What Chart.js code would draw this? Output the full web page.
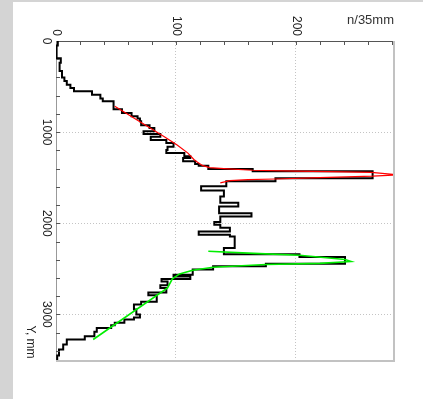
<!DOCTYPE html>
<html>
<head>
<meta charset="utf-8">
<script src="https://cdn.jsdelivr.net/npm/chart.js@4.4.1/dist/chart.umd.min.js"></script>
<style>
  body { margin: 0; background: #d4d4d4; width: 423px; height: 399px; overflow: hidden; }
  #panel { position: absolute; left: 13px; top: 2px; width: 410px; height: 397px; background: #fff; }
  canvas { display: block; }
</style>
</head>
<body>
<div id="panel"><canvas id="chart" width="410" height="397"></canvas></div>
<script>
// histogram: start of each step along Y (mm) and count per 35 mm
const histY = [0, 50, 190, 240, 330, 400, 440, 480, 515, 550, 590, 630, 660, 750, 790, 825, 850, 880, 925, 955,
  990, 1020, 1050, 1085, 1120, 1160, 1195, 1230, 1265, 1285, 1320, 1350, 1370, 1405, 1430, 1505, 1540, 1595, 1640, 1705,
  1775, 1815, 1890, 1925, 1985, 2015, 2050, 2090, 2125, 2145, 2270, 2340, 2370, 2445, 2472, 2508, 2565, 2585, 2610, 2640,
  2680, 2710, 2760, 2790, 2860, 2890, 2945, 3000, 3035, 3055, 3090, 3120, 3150, 3190, 3240, 3275, 3330, 3385, 3450, 3500];
const histN = [1.5, 0.5, 4, 3, 5, 7, 9, 12, 15, 30, 37, 39, 48, 55, 63, 68, 70, 71, 78, 82,
  73, 87, 79, 92, 98, 93, 92, 107, 112, 106, 116, 119, 127, 164, 264, 183, 142, 121, 140, 137,
  152, 136, 163, 137, 132, 137, 145, 119, 145, 149, 140, 203, 241, 175, 131, 114, 98, 112, 88, 93,
  87, 92, 77, 84, 71, 65, 67, 70, 65, 57, 49, 46, 34, 32, 24, 9, 6, 2.5, 1, 1];

// fitted peaks
const redY = [716, 885, 1055, 1140, 1230, 1300, 1330, 1365, 1390, 1401, 1418, 1428, 1436, 1442, 1468, 1482, 1498, 1514, 1522, 1532, 1556];
const redN = [49, 70, 91, 101, 110, 115, 118, 122, 128, 140, 164, 200, 240, 263, 285, 264, 220, 183, 160, 145, 137];
const greenY = [2307, 2330, 2351, 2398, 2420, 2440, 2453, 2482, 2515, 2555, 2610, 2709, 3275];
const greenN = [127, 165, 203, 241, 246, 220, 175, 131, 114, 103, 97, 93, 31];

const nTickLabels = [0, 100, 200];
const yTickLabels = [0, 1000, 2000, 3000];

const pts = (ys, ns) => ys.map((y, i) => ({ x: ns[i], y: y }));

const FONT = '12px "Liberation Sans", Arial, sans-serif';

function rotText(ctx, text, x, y, align) {
  ctx.save();
  ctx.translate(x, y);
  ctx.rotate(Math.PI / 2);
  ctx.textAlign = align;
  ctx.textBaseline = 'middle';
  ctx.fillText(text, 0, 0);
  ctx.restore();
}

// frame on right/bottom, inner minor ticks, rotated tick labels and axis titles
const axisDecor = {
  id: 'axisDecor',
  afterDraw(chart) {
    const { ctx, chartArea: a, scales: { x, y } } = chart;
    ctx.save();
    ctx.strokeStyle = '#c2c2c2';
    ctx.lineWidth = 2;
    ctx.beginPath();
    ctx.moveTo(a.left, a.bottom + 1);
    ctx.lineTo(a.right + 1, a.bottom + 1);
    ctx.lineTo(a.right + 1, a.top);
    ctx.stroke();

    ctx.strokeStyle = '#555';
    ctx.lineWidth = 1;
    ctx.beginPath();
    for (let v = 20; v < x.max; v += 20) {
      const px = Math.round(x.getPixelForValue(v)) + 0.5;
      ctx.moveTo(px, a.top);
      ctx.lineTo(px, a.top + 4);
    }
    for (let v = 200; v < y.max; v += 200) {
      const py = Math.round(y.getPixelForValue(v)) + 0.5;
      ctx.moveTo(a.left, py);
      ctx.lineTo(a.left + 4, py);
    }
    ctx.stroke();

    ctx.fillStyle = '#222';
    ctx.font = FONT;
    nTickLabels.forEach(v => rotText(ctx, String(v), x.getPixelForValue(v), a.top - 5, 'right'));
    yTickLabels.forEach(v => rotText(ctx, String(v), a.left - 10, y.getPixelForValue(v), 'center'));
    rotText(ctx, 'Y, mm', a.left - 26, 340, 'center');

    ctx.font = '13px "Liberation Sans", Arial, sans-serif';
    ctx.fillStyle = '#333';
    ctx.textAlign = 'right';
    ctx.textBaseline = 'alphabetic';
    ctx.fillText('n/35mm', a.right + 1, 22);
    ctx.restore();
  }
};

const gridColor = c => (c.tick && c.tick.value > 0) ? '#c4c4c4' : 'rgba(0,0,0,0)';

new Chart(document.getElementById('chart'), {
  type: 'scatter',
  data: {
    datasets: [
      {
        data: pts(histY, histN),
        showLine: true,
        stepped: 'after',
        borderColor: '#000',
        borderWidth: 2,
        pointRadius: 0,
        order: 2
      },
      {
        data: pts(redY, redN),
        showLine: true,
        borderColor: '#ff0000',
        borderWidth: 1.2,
        pointRadius: 0,
        order: 1
      },
      {
        data: pts(greenY, greenN),
        showLine: true,
        borderColor: '#00ee00',
        borderWidth: 1.6,
        pointRadius: 0,
        order: 1
      }
    ]
  },
  options: {
    responsive: false,
    animation: false,
    layout: { padding: { left: 43, top: 39, right: 30, bottom: 39 } },
    plugins: { legend: { display: false }, tooltip: { enabled: false } },
    scales: {
      x: {
        type: 'linear', position: 'top', min: 0, max: 281,
        afterBuildTicks: s => { s.ticks = nTickLabels.map(v => ({ value: v })); },
        ticks: { display: false },
        grid: { drawTicks: false, color: gridColor, lineWidth: 1 },
        border: { color: '#555', width: 1, dash: [1, 2] }
      },
      y: {
        type: 'linear', position: 'left', reverse: true, min: 0, max: 3500,
        afterBuildTicks: s => { s.ticks = yTickLabels.map(v => ({ value: v })); },
        ticks: { display: false },
        grid: { drawTicks: false, color: gridColor, lineWidth: 1 },
        border: { color: '#999', width: 1, dash: [1, 2] }
      }
    }
  },
  plugins: [axisDecor]
});
</script>
</body>
</html>
